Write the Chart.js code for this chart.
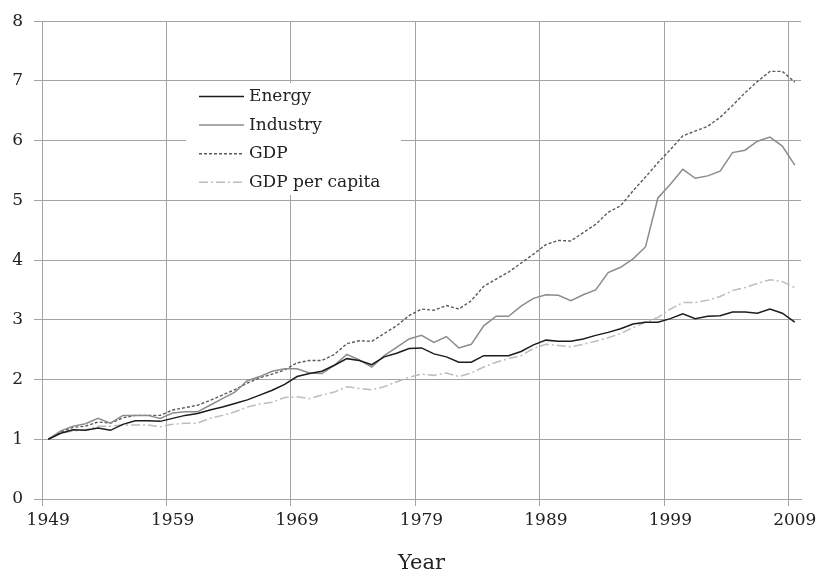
<!DOCTYPE html>
<html>
<head>
<meta charset="utf-8">
<script src="https://cdn.jsdelivr.net/npm/chart.js@4.4.1/dist/chart.umd.min.js"></script>
<style>
  html, body { margin: 0; padding: 0; background: #fff; }
  canvas { display: block; }
</style>
</head>
<body>
<canvas id="growthChart" width="821" height="576"></canvas>
<script>
// years 1949 .. 2009, index 1949 = 1
const years = [];
for (let y = 1949; y <= 2009; y++) years.push(String(y));

const energy = [
  1.00, 1.10, 1.16, 1.15, 1.19, 1.15, 1.25, 1.31, 1.31, 1.30,
  1.35, 1.40, 1.43, 1.49, 1.54, 1.60, 1.66, 1.74, 1.82, 1.92,
  2.05, 2.10, 2.14, 2.24, 2.35, 2.32, 2.25, 2.38, 2.44, 2.52,
  2.53, 2.43, 2.38, 2.29, 2.29, 2.40, 2.40, 2.40, 2.47, 2.58,
  2.66, 2.64, 2.64, 2.68, 2.74, 2.79, 2.85, 2.93, 2.96, 2.96,
  3.02, 3.10, 3.02, 3.06, 3.07, 3.13, 3.13, 3.11, 3.18, 3.11, 2.96
];
const industry = [
  1.00, 1.14, 1.22, 1.26, 1.35, 1.27, 1.40, 1.40, 1.40, 1.35,
  1.44, 1.46, 1.46, 1.57, 1.68, 1.79, 1.98, 2.05, 2.14, 2.18,
  2.18, 2.11, 2.10, 2.24, 2.42, 2.33, 2.21, 2.40, 2.54, 2.68,
  2.74, 2.62, 2.72, 2.53, 2.59, 2.90, 3.06, 3.06, 3.23, 3.36,
  3.42, 3.41, 3.32, 3.42, 3.50, 3.79, 3.88, 4.02, 4.22, 5.04,
  5.27, 5.52, 5.37, 5.41, 5.49, 5.80, 5.84, 5.99, 6.06, 5.91, 5.59
];
const gdp = [
  1.00, 1.12, 1.20, 1.22, 1.29, 1.27, 1.36, 1.40, 1.40, 1.40,
  1.49, 1.53, 1.57, 1.65, 1.74, 1.83, 1.94, 2.03, 2.09, 2.16,
  2.28, 2.32, 2.32, 2.42, 2.60, 2.65, 2.64, 2.77, 2.90, 3.07,
  3.18, 3.16, 3.24, 3.18, 3.32, 3.56, 3.68, 3.80, 3.95, 4.10,
  4.26, 4.33, 4.32, 4.46, 4.60, 4.80, 4.91, 5.16, 5.39, 5.63,
  5.85, 6.08, 6.16, 6.24, 6.39, 6.59, 6.80, 6.99, 7.16, 7.16, 6.98
];
const gdpPerCapita = [
  1.00, 1.10, 1.14, 1.16, 1.22, 1.22, 1.24, 1.24, 1.24, 1.21,
  1.25, 1.27, 1.27, 1.35, 1.40, 1.46, 1.54, 1.59, 1.62, 1.70,
  1.71, 1.68, 1.74, 1.79, 1.88, 1.85, 1.83, 1.88, 1.96, 2.04,
  2.09, 2.07, 2.11, 2.05, 2.11, 2.21, 2.29, 2.35, 2.40, 2.52,
  2.59, 2.57, 2.55, 2.59, 2.64, 2.70, 2.77, 2.87, 2.96, 3.04,
  3.18, 3.29, 3.29, 3.33, 3.39, 3.49, 3.54, 3.61, 3.67, 3.64, 3.54
];

const FONT = '"DejaVu Serif", "Liberation Serif", serif';
const GRID = '#a3a3a3';

// legend sits inside the plot on a white box, like the original
const insideLegend = {
  id: 'insideLegend',
  beforeDatasetsDraw(chart) {
    const ctx = chart.ctx;
    ctx.save();
    ctx.fillStyle = '#fff';
    ctx.fillRect(186, 83, 215, 112);
    ctx.font = '17px ' + FONT;
    ctx.textBaseline = 'middle';
    chart.data.datasets.forEach((ds, i) => {
      const y = 96.5 + i * 28.6;
      ctx.strokeStyle = ds.borderColor;
      ctx.lineWidth = ds.borderWidth;
      ctx.setLineDash(ds.borderDash || []);
      ctx.beginPath();
      ctx.moveTo(199, y);
      ctx.lineTo(244, y);
      ctx.stroke();
      ctx.setLineDash([]);
      ctx.fillStyle = '#222';
      ctx.fillText(ds.label, 249, y);
    });
    ctx.restore();
  }
};

new Chart(document.getElementById('growthChart'), {
  type: 'line',
  data: {
    labels: years,
    datasets: [
      { label: 'Energy', data: energy, borderColor: '#1c1c1c', borderWidth: 1.5 },
      { label: 'Industry', data: industry, borderColor: '#8c8c8c', borderWidth: 1.5 },
      { label: 'GDP', data: gdp, borderColor: '#5a5a5a', borderWidth: 1.4, borderDash: [3, 2] },
      { label: 'GDP per capita', data: gdpPerCapita, borderColor: '#bdbdbd', borderWidth: 1.5, borderDash: [9, 3, 2, 3] }
    ]
  },
  options: {
    responsive: false,
    animation: false,
    devicePixelRatio: 1,
    elements: { point: { radius: 0 }, line: { tension: 0 } },
    layout: { padding: { left: 0, top: 20, right: 20, bottom: 0 } },
    plugins: { legend: { display: false }, tooltip: { enabled: false } },
    scales: {
      x: {
        type: 'category',
        offset: true,
        grid: {
          offset: true,
          color: ctx => (ctx.index % 10 === 0 ? GRID : 'rgba(0,0,0,0)'),
          tickLength: 7,
          lineWidth: 1
        },
        border: { color: GRID },
        ticks: {
          autoSkip: false,
          maxRotation: 0,
          padding: 4,
          color: '#222',
          font: { family: FONT, size: 17 },
          callback: (v, i) => (i % 10 === 0 ? years[i] : '')
        },
        title: {
          display: true,
          text: 'Year',
          color: '#222',
          font: { family: FONT, size: 21 },
          padding: { top: 0, bottom: 0 }
        },
        afterFit: scale => { scale.height = 77; }
      },
      y: {
        min: 0,
        max: 8,
        grid: { color: GRID, tickLength: 8 },
        border: { color: GRID },
        ticks: {
          stepSize: 1,
          padding: 11,
          color: '#222',
          font: { family: FONT, size: 17 }
        },
        afterFit: scale => { scale.width = 42; }
      }
    }
  },
  plugins: [insideLegend]
});
</script>
</body>
</html>
